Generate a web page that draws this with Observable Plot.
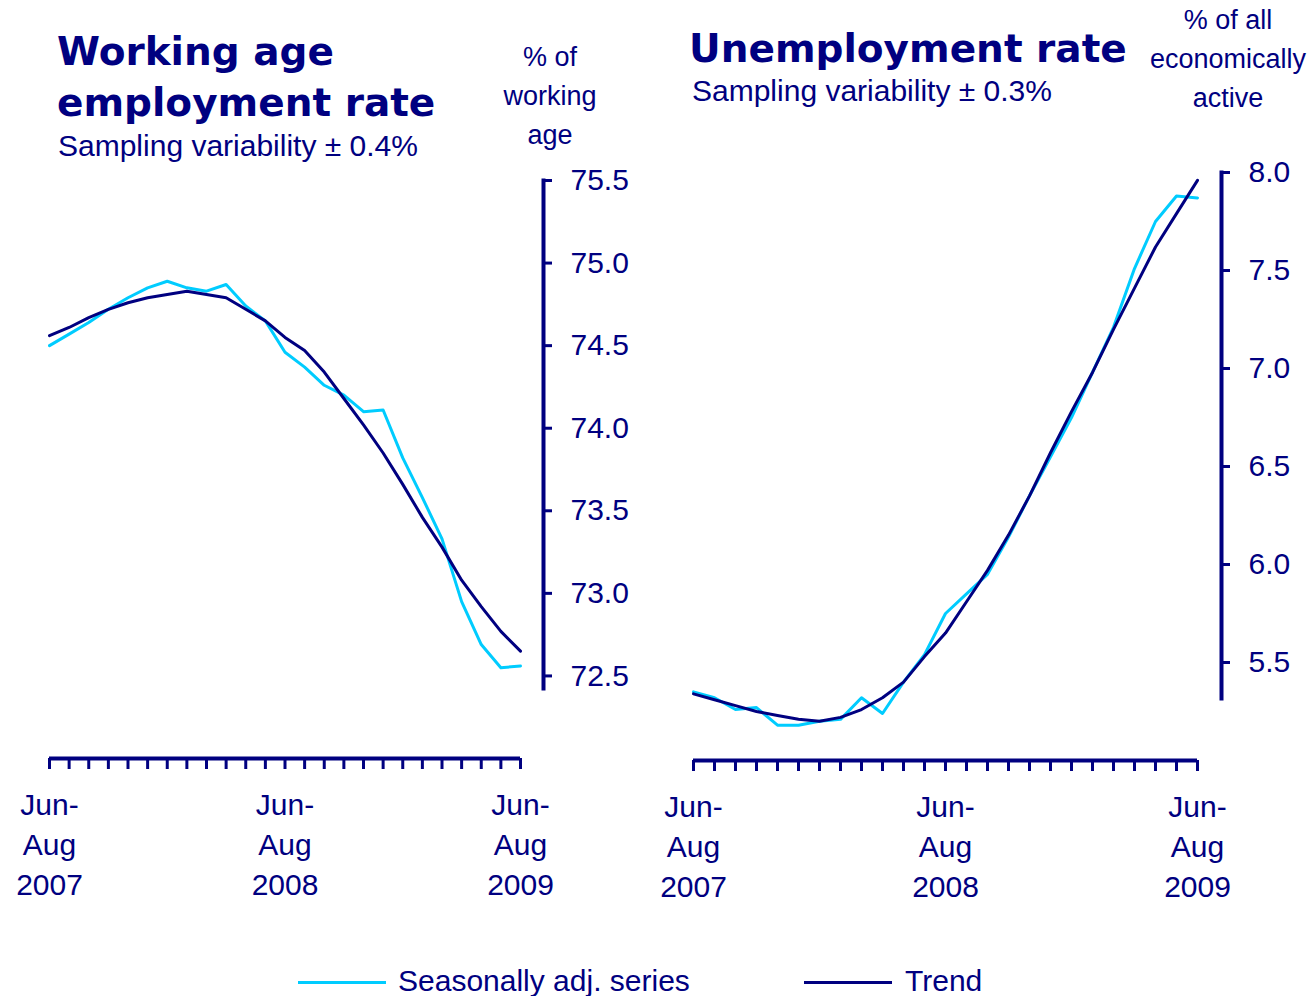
<!DOCTYPE html>
<html><head><meta charset="utf-8">
<script src="https://cdn.jsdelivr.net/npm/d3@7"></script>
<script src="https://cdn.jsdelivr.net/npm/@observablehq/plot@0.6"></script>
<style>
body{margin:0;background:#fff;}
#wrap{position:relative;width:1315px;height:996px;overflow:hidden;font-family:"Liberation Sans",Arial,sans-serif;color:#000080;background:#fff;}
.abs{position:absolute;white-space:nowrap;}
.title{font-family:"DejaVu Sans",Verdana,sans-serif;font-weight:bold;font-size:39px;line-height:51px;}
.sub{font-size:30px;line-height:30px;}
.unit{font-size:27px;line-height:39px;text-align:center;width:200px;}
.plot{position:absolute;top:0;}
</style></head><body>
<div id="wrap">
  <div class="abs title" style="left:57px;top:26px;">Working age<br>employment rate</div>
  <div class="abs sub" style="left:58px;top:131px;">Sampling variability ± 0.4%</div>
  <div class="abs unit" style="left:450px;top:38px;">% of<br>working<br>age</div>
  <div class="abs title" style="left:689px;top:23px;">Unemployment rate</div>
  <div class="abs sub" style="left:692px;top:76px;">Sampling variability ± 0.3%</div>
  <div class="abs unit" style="left:1128px;top:1px;">% of all<br>economically<br>active</div>
  <div class="abs" style="left:298px;top:981px;width:88px;height:3px;background:#00CCFF"></div>
  <div class="abs sub" style="left:398px;top:966px;">Seasonally adj. series</div>
  <div class="abs" style="left:804px;top:981px;width:88px;height:3px;background:#000080"></div>
  <div class="abs sub" style="left:905px;top:966px;">Trend</div>
</div>
<script>
// rolling three-month periods
const periods = ["Jun-Aug 2007","Jul-Sep 2007","Aug-Oct 2007","Sep-Nov 2007","Oct-Dec 2007","Nov-Jan 2008","Dec-Feb 2008","Jan-Mar 2008","Feb-Apr 2008","Mar-May 2008","Apr-Jun 2008","May-Jul 2008","Jun-Aug 2008","Jul-Sep 2008","Aug-Oct 2008","Sep-Nov 2008","Oct-Dec 2008","Nov-Jan 2009","Dec-Feb 2009","Jan-Mar 2009","Feb-Apr 2009","Mar-May 2009","Apr-Jun 2009","May-Jul 2009","Jun-Aug 2009"];
const labelledPeriods = ["Jun-Aug 2007","Jun-Aug 2008","Jun-Aug 2009"];

// Working age employment rate (%)
const empSA    = [74.50,74.57,74.64,74.72,74.79,74.85,74.89,74.85,74.83,74.87,74.74,74.65,74.46,74.37,74.26,74.20,74.10,74.11,73.82,73.58,73.33,72.95,72.69,72.55,72.56];
const empTrend = [74.56,74.61,74.67,74.72,74.76,74.79,74.81,74.83,74.81,74.79,74.72,74.65,74.55,74.47,74.34,74.18,74.02,73.85,73.66,73.46,73.28,73.08,72.92,72.77,72.65];
const empTicks = [72.5,73.0,73.5,74.0,74.5,75.0,75.5];

// Unemployment rate (%)
const unSA    = [5.35,5.32,5.26,5.27,5.18,5.18,5.20,5.21,5.32,5.24,5.40,5.54,5.75,5.85,5.95,6.14,6.35,6.55,6.75,6.98,7.21,7.51,7.75,7.88,7.87];
const unTrend = [5.34,5.31,5.28,5.25,5.23,5.21,5.20,5.22,5.26,5.32,5.40,5.53,5.65,5.81,5.97,6.15,6.35,6.57,6.78,6.98,7.20,7.41,7.62,7.79,7.96];
const unTicks = [5.5,6.0,6.5,7.0,7.5,8.0];

const NAVY = "#000080", CYAN = "#00CCFF";
const FONT = "'Liberation Sans', Arial, sans-serif";

const fmtPeriod = p => p.replace("-", "-\n").replace(" ", "\n");

function panel({sa, trend, ticks, yDomain, left, width, xRange, marginTop, marginBottom, marginRight, axisInsetBottom}) {
  const rows = periods.map((p, i) => ({period: p, sa: sa[i], trend: trend[i]}));
  const first = periods[0], last = periods[periods.length - 1];
  const chart = Plot.plot({
    width, height: 930,
    marginTop, marginBottom, marginRight, marginLeft: 0,
    style: {fontFamily: FONT, color: NAVY, background: "transparent", overflow: "visible"},
    x: {type: "point", domain: periods, range: xRange, padding: 0, round: false, label: null},
    y: {domain: yDomain, label: null},
    marks: [
      Plot.frame({anchor: "right", insetBottom: axisInsetBottom, stroke: NAVY, strokeWidth: 4}),
      Plot.ruleY([yDomain[0]], {y: d => d, x1: () => first, x2: () => last, stroke: NAVY, strokeWidth: 4}),
      Plot.axisY({anchor: "right", label: null, ticks, tickFormat: d3.format(".1f"), tickSize: 8, tickPadding: 19, strokeWidth: 3, fontSize: 30, fill: NAVY, stroke: NAVY}),
      Plot.axisX({anchor: "bottom", label: null, ticks: periods, tickSize: 11, tickFormat: () => "", strokeWidth: 3, stroke: NAVY}),
      Plot.axisX({anchor: "bottom", label: null, ticks: labelledPeriods, tickSize: 0, tickPadding: 28, tickFormat: fmtPeriod, lineHeight: 1.33, fontSize: 30, fill: NAVY}),
      Plot.line(rows, {x: "period", y: "sa", stroke: CYAN, strokeWidth: 3, curve: "linear"}),
      Plot.line(rows, {x: "period", y: "trend", stroke: NAVY, strokeWidth: 3, curve: "linear"})
    ]
  });
  chart.classList.add("plot");
  chart.style.left = left + "px";
  document.getElementById("wrap").appendChild(chart);
}

panel({sa: empSA, trend: empTrend, ticks: empTicks, yDomain: [72, 75.5], left: 0, width: 660,
       xRange: [49, 520], marginTop: 180, marginBottom: 930 - 758, marginRight: 660 - 543, axisInsetBottom: 70});
panel({sa: unSA, trend: unTrend, ticks: unTicks, yDomain: [5, 8], left: 660, width: 655,
       xRange: [33, 537], marginTop: 172, marginBottom: 930 - 760, marginRight: 655 - 561, axisInsetBottom: 62});
</script>
</body></html>
